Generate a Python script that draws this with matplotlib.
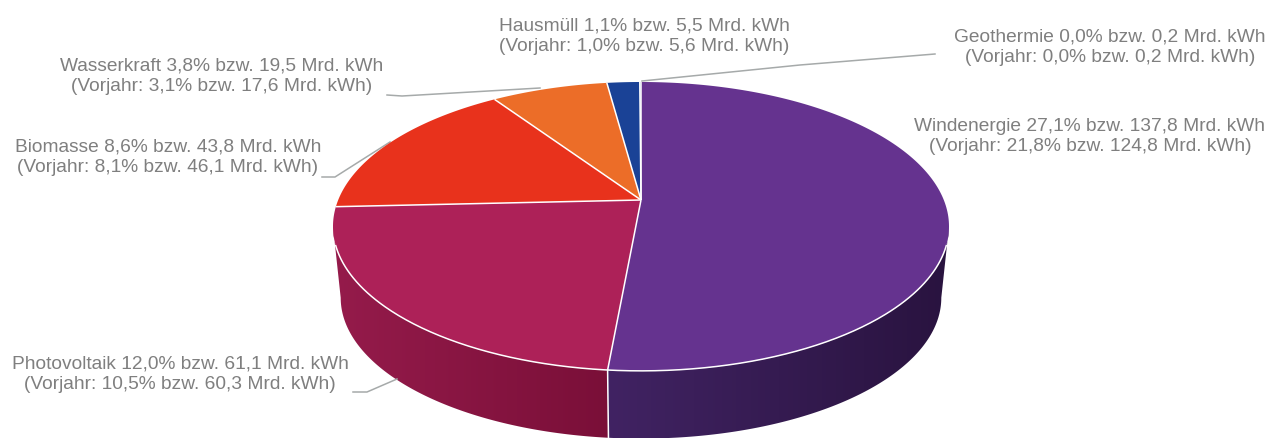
import numpy as np
import matplotlib
matplotlib.use("Agg")
import matplotlib.pyplot as plt
from matplotlib.colors import to_rgb
from matplotlib.patches import Polygon

plt.rcParams['font.family'] = ['Liberation Sans', 'DejaVu Sans']

categories = ["Windenergie", "Photovoltaik", "Biomasse", "Wasserkraft", "Hausmüll", "Geothermie"]
values = [137.8, 61.1, 43.8, 19.5, 5.5, 0.2]
top_colors = ["#65338f", "#ad2158", "#e8321c", "#ec6d28", "#1a4296", "#1a4296"]
side_left_colors = {"Windenergie": "#412363", "Photovoltaik": "#951b4b"}
side_right_colors = {"Windenergie": "#29133f", "Photovoltaik": "#7a0f38"}
labels = [
    "Windenergie 27,1% bzw. 137,8 Mrd. kWh\n(Vorjahr: 21,8% bzw. 124,8 Mrd. kWh)",
    "Photovoltaik 12,0% bzw. 61,1 Mrd. kWh\n(Vorjahr: 10,5% bzw. 60,3 Mrd. kWh)",
    "Biomasse 8,6% bzw. 43,8 Mrd. kWh\n(Vorjahr: 8,1% bzw. 46,1 Mrd. kWh)",
    "Wasserkraft 3,8% bzw. 19,5 Mrd. kWh\n(Vorjahr: 3,1% bzw. 17,6 Mrd. kWh)",
    "Hausmüll 1,1% bzw. 5,5 Mrd. kWh\n(Vorjahr: 1,0% bzw. 5,6 Mrd. kWh)",
    "Geothermie 0,0% bzw. 0,2 Mrd. kWh\n(Vorjahr: 0,0% bzw. 0,2 Mrd. kWh)",
]
label_pos = [(1090, 136.5), (180, 374), (168, 157), (222, 76), (644, 36.5), (1110, 47)]
leaders = [
    None,
    [(353, 393), (367, 393), (397, 380)],
    [(322, 178), (335, 178), (390, 143)],
    [(387, 96), (402, 97), (540, 89)],
    None,
    [(642, 82), (800, 66), (935, 55)],
]

CX, CY = 641.0, 201.0
A, B, K = 302.8, 139.6, 0.183
GREY = "#7f7f7f"


def project(theta, scale=1.0, dy=0.0):
    """Clockwise angle from 12 o'clock (radians) to pixel position with perspective."""
    u, v = np.sin(theta), np.cos(theta)
    d = 1 + K * v
    return CX + scale * A * u / d, CY + dy - scale * B * v / d


fig = plt.figure(figsize=(12.69, 4.39), dpi=100)
ax = fig.add_axes([0, 0, 1, 1])
ax.set_xlim(0, 1269)
ax.set_ylim(439, 0)
ax.axis("off")

fractions = np.array(values) / np.sum(values)
edges = np.concatenate([[0], np.cumsum(fractions)]) * 2 * np.pi

# side wall: the two front slices, each a horizontal gradient clipped to its outline
SCALE, DY = 0.975, 72.0
extreme = np.arccos(-K)  # angle of the widest point of the perspective ellipse
side_start, side_end = extreme, 2 * np.pi - extreme
for i, name in enumerate(categories):
    if name not in side_left_colors:
        continue
    a0, a1 = max(edges[i], side_start), min(edges[i + 1], side_end)
    t = np.linspace(a0, a1, 300)
    xt, yt = project(t)
    xb, yb = project(t, SCALE, DY)
    outline = np.c_[np.r_[xt, xb[::-1]], np.r_[yt, yb[::-1]]]
    patch = Polygon(outline, closed=True, transform=ax.transData, fc="none", ec="none")
    ax.add_patch(patch)
    x_lo, x_hi = outline[:, 0].min(), outline[:, 0].max()
    y_lo, y_hi = outline[:, 1].min(), outline[:, 1].max()
    c0, c1 = np.array(to_rgb(side_left_colors[name])), np.array(to_rgb(side_right_colors[name]))
    f = np.linspace(0, 1, 256)[None, :, None]
    grad = c0[None, None, :] * (1 - f) + c1[None, None, :] * f
    im = ax.imshow(grad, extent=(x_lo, x_hi, y_hi, y_lo), aspect="auto", zorder=1, interpolation="bilinear")
    im.set_clip_path(patch)
ax.set_xlim(0, 1269)
ax.set_ylim(439, 0)

# top face
for i in range(len(values)):
    t = np.linspace(edges[i], edges[i + 1], 200)
    x, y = project(t)
    ax.fill(np.r_[CX, x], np.r_[CY, y], color=top_colors[i], lw=0, zorder=2)

# separators
for e in edges[:-1]:
    x, y = project(np.array([e]))
    ax.plot([CX, x[0]], [CY, y[0]], color="white", lw=1.1, zorder=3, solid_capstyle="butt")
t = np.linspace(np.radians(108), np.radians(252), 300)
x, y = project(t)
ax.plot(x, y, color="white", lw=1.1, zorder=3)
x0, y0 = project(np.array([edges[1]]))
x1, y1 = project(np.array([edges[1]]), SCALE, DY)
ax.plot([x0[0], x1[0]], [y0[0], y1[0]], color="white", lw=1.1, zorder=3)

# leaders and labels
for pts in leaders:
    if pts:
        xs, ys = zip(*pts)
        ax.plot(xs, ys, color="#a6aaaa", lw=1.1, zorder=1.5)
for lab, (lx, ly) in zip(labels, label_pos):
    ax.text(lx, ly, lab, ha="center", va="center", multialignment="center",
            fontsize=13.8, color=GREY, linespacing=1.3, zorder=5)

fig.savefig("out.png", dpi=100)
